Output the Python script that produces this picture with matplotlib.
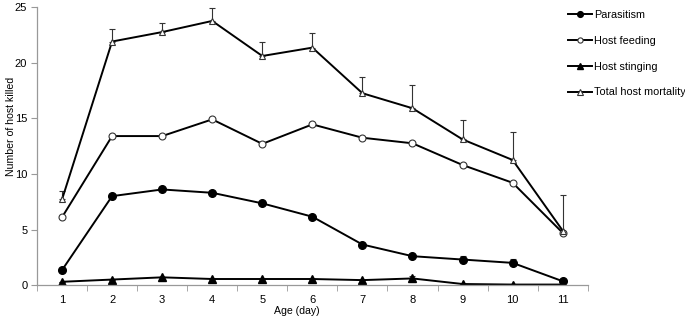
import numpy as np
import matplotlib.pyplot as plt

plt.rcParams['font.family'] = ['Liberation Sans', 'DejaVu Sans']

days = np.arange(1, 12)
parasitism = [1.35, 8.0, 8.6, 8.3, 7.35, 6.15, 3.65, 2.6, 2.3, 2.0, 0.35]
parasitism_err = [0.0, 0.0, 0.0, 0.0, 0.0, 0.0, 0.0, 0.0, 0.3, 0.35, 0.0]
host_feeding = [6.1, 13.4, 13.4, 14.9, 12.7, 14.45, 13.25, 12.75, 10.8, 9.2, 4.7]
host_stinging = [0.3, 0.5, 0.7, 0.55, 0.55, 0.55, 0.45, 0.6, 0.1, 0.05, 0.05]
stinging_err = [0.0, 0.0, 0.0, 0.0, 0.0, 0.0, 0.0, 0.25, 0.0, 0.0, 0.0]
total = [7.7, 21.9, 22.75, 23.75, 20.6, 21.35, 17.25, 15.9, 13.1, 11.25, 4.9]
total_err = [0.75, 1.1, 0.85, 1.2, 1.25, 1.3, 1.45, 2.1, 1.7, 2.55, 3.2]

fig = plt.figure(figsize=(6.85, 3.2), dpi=100)
ax = fig.add_axes([0.054, 0.109, 0.804, 0.869])

ebkw = dict(ecolor='#333333', elinewidth=0.8, capsize=2.5, capthick=0.8)
z = np.zeros(len(days))

ax.errorbar(days, total, yerr=[z, total_err], fmt='none', **ebkw)
ax.errorbar(days, parasitism, yerr=[z, parasitism_err], fmt='none', **ebkw)
ax.errorbar(days, host_stinging, yerr=[z, stinging_err], fmt='none', **ebkw)

ax.plot(days, parasitism, '-o', color='black', lw=1.4, ms=5.5, label='Parasitism')
ax.plot(days, host_feeding, '-o', color='black', lw=1.4, ms=5, mfc='white',
        mec='#333333', mew=0.8, label='Host feeding')
ax.plot(days, host_stinging, '-^', color='black', lw=1.4, ms=5.5, label='Host stinging')
ax.plot(days, total, '-^', color='black', lw=1.4, ms=5, mfc='white',
        mec='#333333', mew=0.8, label='Total host mortality')

ax.set_xlim(0.5, 11.5)
ax.set_ylim(0, 25)
ax.set_xticks(days)
ax.set_xticks(np.arange(0.5, 12, 1), minor=True)
ax.tick_params(axis='x', which='major', length=0, labelsize=8, pad=7)
ax.tick_params(axis='x', which='minor', length=4, color='#999999')
ax.set_yticks([0, 5, 10, 15, 20, 25])
ax.tick_params(axis='y', length=4, color='#999999', labelsize=8, pad=3)

for s in ['top', 'right']:
    ax.spines[s].set_visible(False)
for s in ['left', 'bottom']:
    ax.spines[s].set_color('#999999')
    ax.spines[s].set_linewidth(0.9)

ax.set_xlabel('Age (day)', fontsize=7.6)
ax.set_ylabel('Number of host killed', fontsize=7.6)
ax.xaxis.set_label_coords(0.472, -0.075)
ax.yaxis.set_label_coords(-0.038, 0.57)

fig.legend(loc='upper left', bbox_to_anchor=(0.829, 0.968), frameon=False, fontsize=7.8,
           handlelength=2.2, handletextpad=0.2, labelspacing=1.45, markerscale=0.75,
           borderpad=0, borderaxespad=0)

fig.savefig('out.png', dpi=100)
